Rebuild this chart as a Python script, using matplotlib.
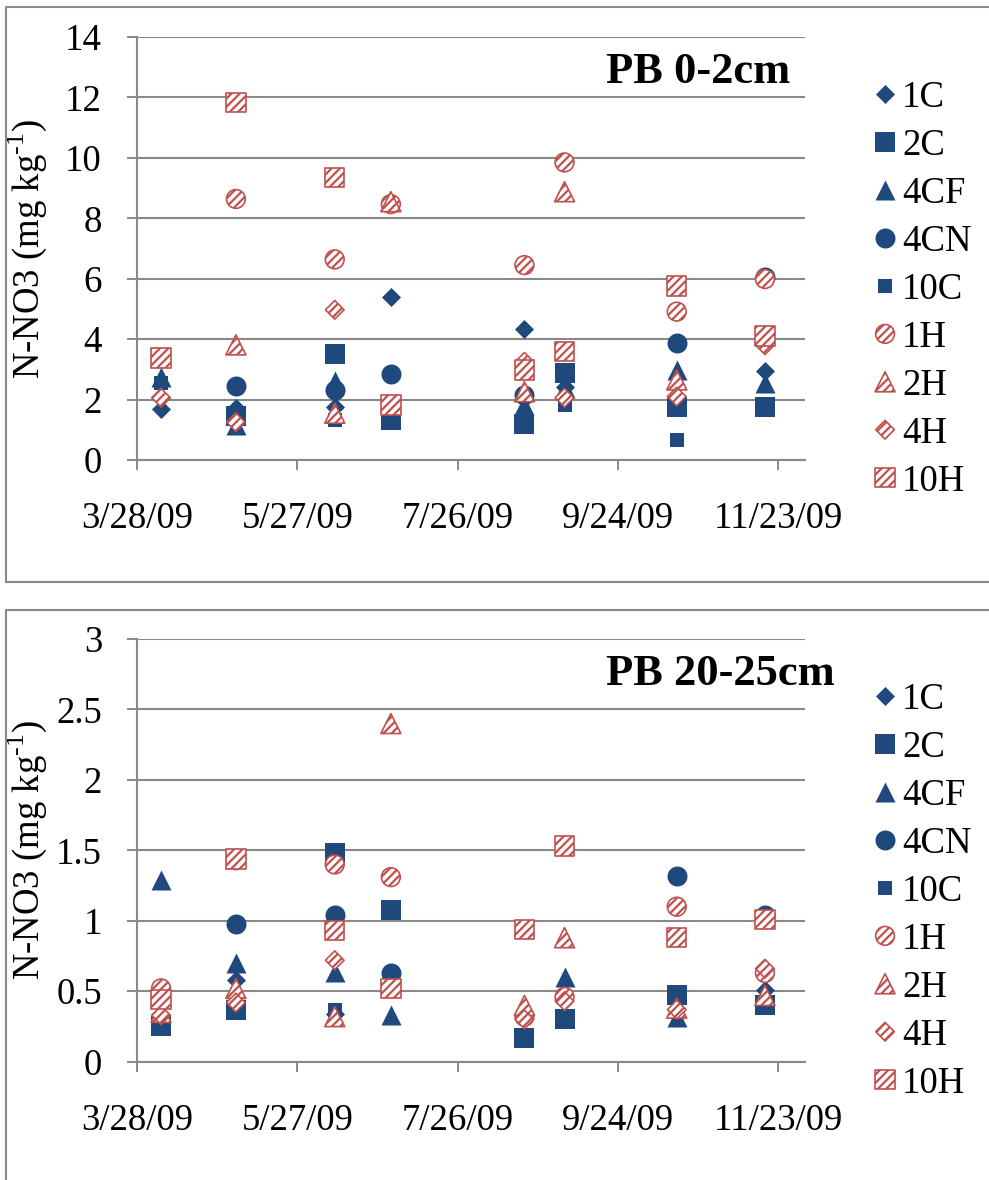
import numpy as np
import matplotlib
matplotlib.use('Agg')
import matplotlib.pyplot as plt
from matplotlib.ticker import FormatStrFormatter
from matplotlib.lines import Line2D
import datetime as dt

plt.rcParams['font.family'] = ['Liberation Serif', 'DejaVu Serif']
plt.rcParams['mathtext.fontset'] = 'custom'
plt.rcParams['mathtext.rm'] = 'Liberation Serif'
plt.rcParams['hatch.color'] = '#C0504D'
plt.rcParams['hatch.linewidth'] = 1.6

nan = np.nan

# sampling dates
fechas = ['2009-04-06', '2009-05-04', '2009-06-10', '2009-07-01',
          '2009-08-20', '2009-09-04', '2009-10-16', '2009-11-18']

series = ['1C', '2C', '4CF', '4CN', '10C', '1H', '2H', '4H', '10H']

# PB 0-2cm
sup_1C = [1.68, 1.72, 1.77, 5.41, 4.34, 2.40, nan, 2.95]
sup_2C = [nan, 1.45, 3.51, 1.34, 1.18, 2.87, 1.77, 1.76]
sup_4CF = [2.76, 1.16, 2.62, nan, 1.82, 2.38, 2.98, 2.55]
sup_4CN = [nan, 2.45, 2.32, 2.85, 2.15, nan, 3.86, 6.05]
sup_10C = [2.56, nan, 1.32, nan, nan, 1.82, 0.66, nan]
sup_1H = [nan, 8.64, 6.64, 8.47, 6.45, 9.85, 4.91, 5.99]
sup_2H = [nan, 3.81, 1.55, 8.55, 2.26, 8.88, 2.65, nan]
sup_4H = [2.06, 1.25, 4.97, nan, 3.25, 2.06, 2.10, 3.80]
sup_10H = [3.37, 11.83, 9.35, 1.82, 2.98, 3.59, 5.76, 4.10]

# PB 20-25cm
prof_1C = [nan, 0.58, 0.34, nan, nan, nan, nan, 0.51]
prof_2C = [0.25, 0.37, 1.48, 1.08, 0.17, 0.30, 0.47, 0.40]
prof_4CF = [1.29, 0.70, 0.64, 0.33, nan, 0.60, 0.32, nan]
prof_4CN = [nan, 0.98, 1.04, 0.63, nan, nan, 1.32, 1.04]
prof_10C = [nan, nan, 0.37, nan, nan, nan, nan, nan]
prof_1H = [0.52, 1.43, 1.40, 1.31, 0.32, 0.46, 1.10, 0.63]
prof_2H = [0.35, 0.52, 0.32, 2.40, 0.40, 0.88, 0.38, 0.47]
prof_4H = [0.33, 0.42, 0.72, nan, 0.30, 0.43, 0.37, 0.66]
prof_10H = [0.44, 1.44, 0.93, 0.52, 0.94, 1.53, 0.88, 1.01]

azul = '#1F497D'
rojo = '#C0504D'
gris = '#898989'

# marker, size (pt), hatched?
estilos = {
    '1C': ('D', 9.7, False),
    '2C': ('s', 14.4, False),
    '4CF': ('^', 14.4, False),
    '4CN': ('o', 14.4, False),
    '10C': ('s', 9.4, False),
    '1H': ('o', 13.5, True),
    '2H': ('^', 14.4, True),
    '4H': ('D', 9.5, True),
    '10H': ('s', 14.0, True),
}

W, H = 989, 1180
fig = plt.figure(figsize=(W / 100, H / 100), dpi=100)

def fx(px):
    return px / W

def fy(py):
    return 1 - py / H

x = [dt.datetime.strptime(f, '%Y-%m-%d') for f in fechas]

def panel(top_px, bot_px, datos, ymax, ystep, titulo, fmt):
    ax = fig.add_axes([fx(137), fy(bot_px), fx(805) - fx(137), fy(top_px) - fy(bot_px)])
    for nombre, vals in zip(series, datos):
        m, ms, rayado = estilos[nombre]
        if rayado:
            ax.scatter(x, vals, marker=m, s=ms ** 2, facecolor='white', edgecolor=rojo,
                       linewidth=1.2, hatch='////', label=nombre, zorder=3)
        else:
            ax.scatter(x, vals, marker=m, s=ms ** 2, color=azul, linewidth=0,
                       label=nombre, zorder=3)
    ax.set_xlim(dt.datetime(2009, 3, 28), dt.datetime(2009, 12, 3))
    ax.set_ylim(0, ymax)
    ax.set_yticks(np.arange(0, ymax + ystep / 2, ystep))
    ax.yaxis.set_major_formatter(FormatStrFormatter(fmt))
    ticks = [dt.datetime(2009, 3, 28) + dt.timedelta(days=60 * i) for i in range(5)]
    ax.set_xticks(ticks)
    ax.set_xticklabels(['%d/%d/%s' % (t.month, t.day, t.strftime('%y')) for t in ticks])
    ax.grid(axis='y', color=gris, linewidth=1.5)
    ax.set_axisbelow(True)
    for s in ['top', 'right']:
        ax.spines[s].set_visible(False)
    for s in ['left', 'bottom']:
        ax.spines[s].set_color(gris)
        ax.spines[s].set_linewidth(1.5)
    ax.tick_params(axis='both', direction='out', length=7.2, width=1.4, color=gris,
                   labelsize=26.5)
    ax.tick_params(axis='x', pad=23)
    ax.tick_params(axis='y', pad=18)
    # hyphen (not a minus sign) in the exponent
    ax.set_ylabel('N-NO3 (mg kg$^{\\mathregular{\u2010' + '1}}$)', fontsize=26.5)
    ax.yaxis.set_label_coords(-0.132, 0.5)
    ax.text(0.702, (bot_px - (top_px + 46)) / (bot_px - top_px), titulo, transform=ax.transAxes,
            fontsize=32, fontweight='bold', ha='left', va='baseline')
    ax.legend(loc='upper left', bbox_to_anchor=(1.1033, 0.897), frameon=False,
              fontsize=26.5, scatterpoints=1, scatteryoffsets=[0.5],
              handlelength=0.6, handletextpad=0.16, labelspacing=0.365,
              borderpad=0, borderaxespad=0)
    return ax

panel(37, 460, [sup_1C, sup_2C, sup_4CF, sup_4CN, sup_10C, sup_1H, sup_2H, sup_4H, sup_10H],
      14, 2, 'PB 0-2cm', '%g')
panel(639, 1061.7, [prof_1C, prof_2C, prof_4CF, prof_4CN, prof_10C, prof_1H, prof_2H, prof_4H, prof_10H],
      3, 0.5, 'PB 20-25cm', '%g')

# chart area borders
def linea(xs, ys):
    fig.add_artist(Line2D([fx(v) for v in xs], [fy(v) for v in ys], color=gris,
                          linewidth=1.5, transform=fig.transFigure))

linea([6, 6, 995], [582, 6.5, 6.5])
linea([6, 995], [582, 582])
linea([6, 6, 995], [1190, 610, 610])

fig.savefig('out.png', dpi=100)
